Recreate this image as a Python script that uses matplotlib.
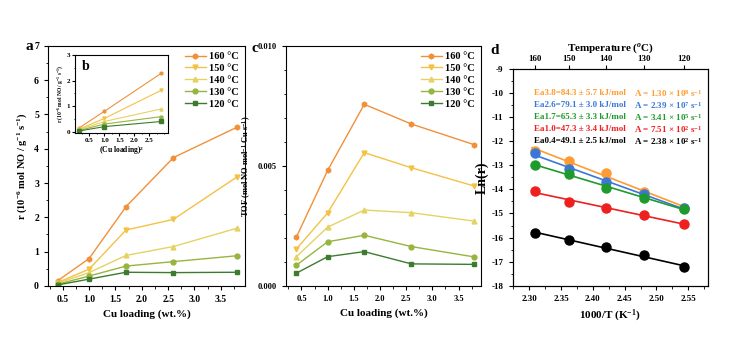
import numpy as np
import matplotlib
matplotlib.use('Agg')
import matplotlib.pyplot as plt
from matplotlib.ticker import MultipleLocator, FixedLocator

plt.rcParams['font.family'] = ['Liberation Serif', 'DejaVu Serif']
plt.rcParams['font.weight'] = 'bold'
plt.rcParams['axes.labelweight'] = 'bold'
plt.rcParams['axes.unicode_minus'] = False
plt.rcParams['mathtext.fontset'] = 'custom'
plt.rcParams['mathtext.rm'] = 'Liberation Serif:bold'
plt.rcParams['mathtext.it'] = 'Liberation Serif:italic:bold'
plt.rcParams['mathtext.bf'] = 'Liberation Serif:bold'

# data
cu_loading = [0.4, 1.0, 1.7, 2.6, 3.8]
temps = ['160 °C', '150 °C', '140 °C', '130 °C', '120 °C']
rate_160 = [0.15, 0.80, 2.31, 3.74, 4.62]
rate_150 = [0.10, 0.49, 1.63, 1.94, 3.17]
rate_140 = [0.08, 0.39, 0.89, 1.15, 1.68]
rate_130 = [0.05, 0.29, 0.58, 0.71, 0.88]
rate_120 = [0.03, 0.20, 0.40, 0.39, 0.40]

cu_sq = [0.16, 1.0, 2.89]
inset_160 = [0.15, 0.80, 2.28]
inset_150 = [0.10, 0.52, 1.62]
inset_140 = [0.08, 0.40, 0.89]
inset_130 = [0.05, 0.30, 0.59]
inset_120 = [0.03, 0.20, 0.40]

tof_160 = [0.00202, 0.00481, 0.00756, 0.00674, 0.00588]
tof_150 = [0.00153, 0.00304, 0.00555, 0.00492, 0.00416]
tof_140 = [0.00121, 0.00245, 0.00316, 0.00305, 0.00270]
tof_130 = [0.00086, 0.00184, 0.00211, 0.00164, 0.00121]
tof_120 = [0.00053, 0.00122, 0.00143, 0.00092, 0.00090]

inv_T = [2.3087, 2.3632, 2.4204, 2.4804, 2.5435]
top_temps = [160, 150, 140, 130, 120]
lnr_38 = [-12.40, -12.82, -13.31, -14.12, -14.76]
lnr_26 = [-12.50, -13.17, -13.68, -14.21, -14.79]
lnr_17 = [-12.99, -13.34, -13.93, -14.35, -14.82]
lnr_10 = [-14.06, -14.54, -14.76, -15.05, -15.45]
lnr_04 = [-15.80, -16.12, -16.40, -16.73, -17.24]
ea_labels = ['Ea3.8=84.3 ± 5.7 kJ/mol', 'Ea2.6=79.1 ± 3.0 kJ/mol',
             'Ea1.7=65.3 ± 3.3 kJ/mol', 'Ea1.0=47.3 ± 3.4 kJ/mol',
             'Ea0.4=49.1 ± 2.5 kJ/mol']
a_labels = [r'A = 1.30 × 10$^{8}$ s$^{-1}$', r'A = 2.39 × 10$^{7}$ s$^{-1}$',
            r'A = 3.41 × 10$^{5}$ s$^{-1}$', r'A = 7.51 × 10$^{2}$ s$^{-1}$',
            r'A = 2.38 × 10$^{2}$ s$^{-1}$']

series_cols = ['#F0913A', '#F3C245', '#E6D264', '#97B53E', '#3D7B2E']
markers = ['h', 'v', '^', 'o', 's']
d_cols = ['#FF9B30', '#3A78D8', '#1F9A2C', '#EE1F1F', '#000000']

fig = plt.figure(figsize=(7.48, 3.64), dpi=100)


def style_ax(ax, fs=7):
    ax.tick_params(which='both', direction='out', labelsize=fs, top=False, right=False)
    ax.tick_params(which='major', length=3, width=0.8)
    ax.tick_params(which='minor', length=1.8, width=0.6)
    for s in ax.spines.values():
        s.set_linewidth(0.8)
    for lab in ax.get_xticklabels() + ax.get_yticklabels():
        lab.set_fontweight('bold')


# panel a
ax_a = fig.add_axes([0.0642, 0.2143, 0.2634, 0.6602])
for ys, c, m, t in zip([rate_160, rate_150, rate_140, rate_130, rate_120], series_cols, markers, temps):
    ax_a.plot(cu_loading, ys, color=c, marker=m, ms=3.5, lw=1.0, label=t)
ax_a.set_xlim(0.22, 3.96)
ax_a.set_ylim(0, 7)
ax_a.xaxis.set_major_locator(MultipleLocator(0.5))
ax_a.xaxis.set_minor_locator(MultipleLocator(0.25))
ax_a.yaxis.set_major_locator(MultipleLocator(1))
ax_a.yaxis.set_minor_locator(MultipleLocator(0.5))
ax_a.set_xlabel('Cu loading (wt.%)', fontsize=8, fontweight='bold', labelpad=4)
ax_a.set_ylabel(r'r (10$^{-6}$ mol NO / g$^{-1}$ s$^{-1}$)', fontsize=7.5, fontweight='bold', labelpad=4)
style_ax(ax_a)
ax_a.legend(loc='upper right', frameon=False, handlelength=2.0,
            handletextpad=0.3, labelspacing=0.25, borderaxespad=0.2,
            prop={'weight': 'bold', 'size': 7.5})

# inset b
ax_b = fig.add_axes([0.1003, 0.6346, 0.1243, 0.2143])
for ys, c, m in zip([inset_160, inset_150, inset_140, inset_130, inset_120], series_cols, markers):
    ax_b.plot(cu_sq, ys, color=c, marker=m, ms=2.2, lw=0.8)
ax_b.set_xlim(0.02, 3.12)
ax_b.set_ylim(-0.05, 3)
ax_b.xaxis.set_minor_locator(MultipleLocator(0.25))
ax_b.yaxis.set_major_locator(MultipleLocator(1))
ax_b.yaxis.set_minor_locator(MultipleLocator(0.5))
ax_b.set_xticks([0.5, 1.0, 1.5, 2.0, 2.5])
ax_b.set_xlabel(r'(Cu loading)$^{2}$', fontsize=5.5, fontweight='bold', labelpad=1)
ax_b.set_ylabel(r'r (10$^{-6}$ mol NO / g$^{-1}$ s$^{-1}$)', fontsize=4, fontweight='bold', labelpad=1)
style_ax(ax_b, fs=5)
ax_b.tick_params(which='major', length=2, pad=1.5)
ax_b.tick_params(which='minor', length=1)
ax_b.text(0.07, 0.93, 'b', transform=ax_b.transAxes, fontsize=10, fontweight='bold', va='top')

# panel c
ax_c = fig.add_axes([0.382, 0.2143, 0.2611, 0.6602])
for ys, c, m, t in zip([tof_160, tof_150, tof_140, tof_130, tof_120], series_cols, markers, temps):
    ax_c.plot(cu_loading, ys, color=c, marker=m, ms=3.5, lw=1.0, label=t)
ax_c.set_xlim(0.2, 3.93)
ax_c.set_ylim(0, 0.010)
ax_c.xaxis.set_major_locator(MultipleLocator(0.5))
ax_c.xaxis.set_minor_locator(MultipleLocator(0.25))
ax_c.set_yticks([0.0, 0.005, 0.010])
ax_c.set_yticklabels(['0.000', '0.005', '0.010'])
ax_c.yaxis.set_minor_locator(MultipleLocator(0.001))
ax_c.set_xlabel('Cu loading (wt.%)', fontsize=8, fontweight='bold', labelpad=4)
ax_c.set_ylabel(r'TOF (mol NO mol$^{-1}$ Cu s$^{-1}$)', fontsize=6, fontweight='bold', labelpad=3)
style_ax(ax_c, fs=6)
ax_c.legend(loc='upper right', frameon=False, handlelength=2.0,
            handletextpad=0.3, labelspacing=0.25, borderaxespad=0.2,
            prop={'weight': 'bold', 'size': 7.5})

# panel d
ax_d = fig.add_axes([0.6854, 0.2151, 0.2611, 0.5953])
x_arr = np.array(inv_T)
for ys, c in zip([lnr_38, lnr_26, lnr_17, lnr_10, lnr_04], d_cols):
    k, b = np.polyfit(x_arr, ys, 1)
    xf = np.array([x_arr[0] - 0.004, x_arr[-1] + 0.004])
    ax_d.plot(xf, k * xf + b, color=c, lw=1.2)
    ax_d.plot(inv_T, ys, 'o', color=c, ms=6.5)
ax_d.set_xlim(2.274, 2.581)
ax_d.set_ylim(-18, -9)
ax_d.xaxis.set_major_locator(MultipleLocator(0.05))
ax_d.xaxis.set_minor_locator(MultipleLocator(0.025))
ax_d.yaxis.set_major_locator(MultipleLocator(1))
ax_d.yaxis.set_minor_locator(MultipleLocator(0.5))
ax_d.set_xlabel(r'1000/T (K$^{-1}$)', fontsize=8, fontweight='bold', labelpad=4)
ax_d.set_ylabel('Ln(r)', fontsize=10, fontweight='bold', labelpad=2)
style_ax(ax_d, fs=6.5)
for i, (ea, aa, c) in enumerate(zip(ea_labels, a_labels, d_cols)):
    yy = -10.0 - 0.5 * i
    ax_d.text(2.3068, yy, ea, color=c, fontsize=6.5, fontweight='bold', va='center')
    ax_d.text(2.464, yy, aa, color=c, fontsize=6.5, fontweight='bold', va='center')

ax_t = ax_d.twiny()
ax_t.set_xlim(ax_d.get_xlim())
ax_t.xaxis.set_major_locator(FixedLocator(inv_T))
ax_t.set_xticklabels([str(t) for t in top_temps])
ax_t.tick_params(which='major', direction='out', length=3, width=0.8, labelsize=6.5, pad=1.5)
for lab in ax_t.get_xticklabels():
    lab.set_fontweight('bold')
ax_t.set_xlabel(r'Temperature ($^{o}$C)', fontsize=8, fontweight='bold', labelpad=3)

# panel letters
fig.text(33 / 748, 1 - 47 / 364, 'a', fontsize=11, fontweight='bold', ha='right', va='center')
fig.text(258 / 748, 1 - 49 / 364, 'c', fontsize=11, fontweight='bold', ha='right', va='center')
fig.text(499 / 748, 1 - 50 / 364, 'd', fontsize=11, fontweight='bold', ha='right', va='center')

fig.savefig('out.png', dpi=100)
